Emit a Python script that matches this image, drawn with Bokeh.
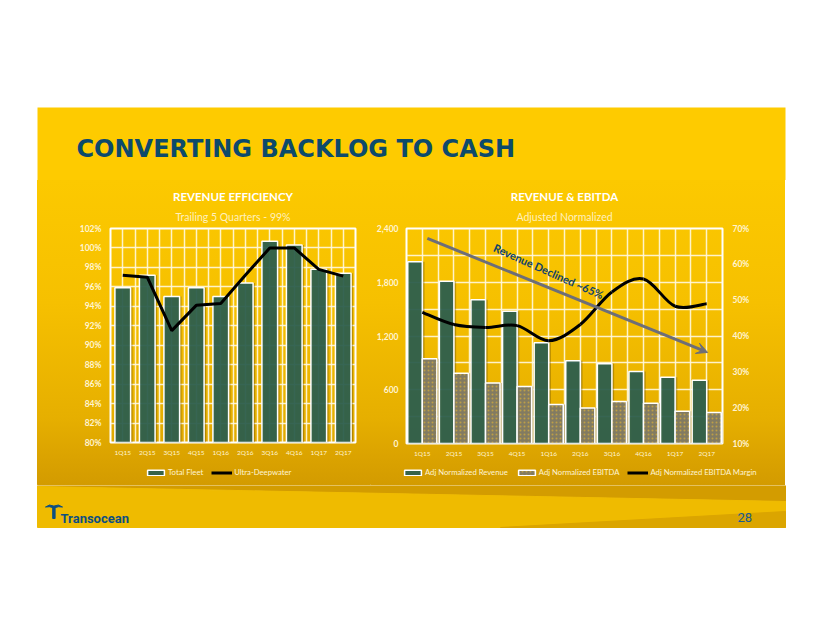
import numpy as np
from bokeh.plotting import figure
from bokeh.models import (Range1d, FactorRange, LinearAxis, FixedTicker, PrintfTickFormatter,
                          NumeralTickFormatter, Legend, LegendItem, Title, Label, Arrow, VeeHead,
                          Grid, Spacer, ColumnDataSource)
from bokeh.layouts import column, row
from bokeh.transform import dodge
from bokeh.embed import file_html
from bokeh.resources import INLINE

# ---------------- data ----------------
quarters = ["1Q15", "2Q15", "3Q15", "4Q15", "1Q16", "2Q16", "3Q16", "4Q16", "1Q17", "2Q17"]

# Revenue efficiency (%)
total_fleet = [95.9, 97.2, 95.0, 95.9, 95.0, 96.4, 100.7, 100.3, 97.8, 97.4]
ultra_deepwater = [97.2, 97.0, 91.5, 94.1, 94.3, 97.2, 100.0, 100.0, 97.8, 97.1]
eff_ticks = [80, 82, 84, 86, 88, 90, 92, 94, 96, 98, 100, 102]

# Revenue & EBITDA ($M) and margin (%)
adj_revenue = [2030, 1810, 1605, 1475, 1125, 925, 890, 805, 740, 705]
adj_ebitda = [945, 785, 675, 635, 435, 395, 470, 450, 360, 345]
adj_margin = [46.6, 43.2, 42.4, 42.9, 38.7, 43.2, 52.3, 55.9, 48.3, 49.0]
usd_ticks = [0, 600, 1200, 1800, 2400]
pct_ticks = [10, 20, 30, 40, 50, 60, 70]

# ---------------- style ----------------
TITLE_FONT = "DejaVu Sans"
FONT = "Lato"
LOGO_FONT = "Roboto"
CREAM = "#fff4d2"
GREEN = "#2a5e4f"
GRAY = "#7f7a66"
NAVY = "#0d4a6b"
GRID = "#fff8e0"
CHART_BG = "linear-gradient(180deg, #fcc900 0%, #f6c000 44%, #e6af00 85%, #daa200 100%)"
LEGEND_BG = "linear-gradient(180deg, #daa200 0%, #d39b00 100%)"


def blank(width, height, x0, x1, y0, y1):
    p = figure(width=width, height=height, x_range=Range1d(x0, x1), y_range=Range1d(y1, y0),
               output_backend="svg", toolbar_location=None, x_axis_type=None, y_axis_type=None,
               min_border=0)
    p.grid.visible = False
    p.outline_line_color = None
    p.background_fill_color = "white"
    p.border_fill_color = "white"
    return p


def no_ticks(ax):
    ax.axis_line_color = None
    ax.major_tick_line_color = None
    ax.minor_tick_line_color = None
    ax.major_tick_out = 0
    ax.major_tick_in = 0
    ax.minor_tick_out = 0
    ax.minor_tick_in = 0


# ---------------- top band (title) ----------------
top = blank(822, 180, 0, 822, 0, 180)
top.quad(left=[37], right=[785], top=[107], bottom=[180], line_color=None, fill_color="#fecb00")
top.add_layout(Label(x=76, y=148, text="CONVERTING BACKLOG TO CASH", text_font=TITLE_FONT,
                     text_font_style="bold", text_font_size="24px", text_color=NAVY,
                     text_baseline="alphabetic"))


def style_chart(p, main_title, sub_title):
    p.background_fill_alpha = 0
    p.border_fill_alpha = 0
    p.styles = {"background": CHART_BG}
    p.outline_line_color = "white"
    p.outline_line_width = 2
    p.title.text = main_title
    p.title.align = "center"
    p.title.text_font = FONT
    p.title.text_font_style = "bold"
    p.title.text_font_size = "11.5px"
    p.title.text_color = "white"
    p.title.standoff = 1
    p.add_layout(Title(text=sub_title, align="center", text_font=FONT, text_font_style="normal",
                       text_font_size="10.5px", text_color="#fff0bf", standoff=11), "above")
    p.xgrid.visible = False
    p.add_layout(Grid(dimension=0, ticker=FixedTicker(ticks=[i * 0.5 for i in range(21)]),
                      grid_line_color=GRID, grid_line_width=1.5, grid_line_alpha=0.9))
    p.ygrid.grid_line_color = GRID
    p.ygrid.grid_line_width = 1.5
    p.ygrid.grid_line_alpha = 0.9
    for ax in p.axis:
        no_ticks(ax)
    p.xaxis.major_label_text_font = FONT
    p.xaxis.major_label_text_font_size = "6.5px"
    p.xaxis.major_label_text_color = CREAM
    p.xaxis.major_label_standoff = 6


def style_yaxis(ax, standoff):
    no_ticks(ax)
    ax.major_label_text_font = FONT
    ax.major_label_text_font_style = "bold"
    ax.major_label_text_font_size = "8.5px"
    ax.major_label_text_color = CREAM
    ax.major_label_standoff = standoff


def legend_strip(width, entries, loc):
    """A thin figure under a chart that carries only that chart's legend.
    Its proxy glyphs sit outside the visible range, so only the legend swatches show."""
    p = figure(width=width, height=25, x_range=Range1d(0, 1), y_range=Range1d(0, 1),
               output_backend="svg", toolbar_location=None, x_axis_type=None, y_axis_type=None,
               min_border=0)
    p.grid.visible = False
    p.outline_line_color = None
    p.background_fill_alpha = 0
    p.border_fill_alpha = 0
    p.styles = {"background": LEGEND_BG}
    items = []
    for label, kind, props in entries:
        if kind == "bar":
            r = p.vbar(x=[-5], top=[-5], bottom=[-6], width=0.1, **props)
        else:
            r = p.line(x=[-6, -5], y=[-5, -5], **props)
        items.append(LegendItem(label=label, renderers=[r]))
    leg = Legend(items=items, orientation="horizontal", location=loc,
                 background_fill_alpha=0, border_line_alpha=0,
                 label_text_font=FONT, label_text_font_size="7.7px", label_text_color=CREAM,
                 glyph_width=21, glyph_height=7, label_standoff=2, spacing=8, padding=2, margin=0)
    p.add_layout(leg, "center")
    return p


BAR_STYLE = dict(fill_color=GREEN, fill_alpha=0.92, line_color="white", line_width=1.5)
EBITDA_STYLE = dict(fill_color=GRAY, fill_alpha=0.95, line_color="white", line_width=1.5,
                    hatch_pattern="dot", hatch_color="#d6ac3a", hatch_alpha=0.7, hatch_scale=4)
LINE_STYLE = dict(line_color="black", line_width=3)
SHADOW = dict(fill_color="#5a4300", fill_alpha=0.35, line_color=None)

# ---------------- left chart: revenue efficiency ----------------
src_l = ColumnDataSource(dict(q=quarters, fleet=total_fleet, udw=ultra_deepwater))
left = figure(frame_width=245, frame_height=214, x_range=FactorRange(factors=quarters),
              y_range=Range1d(80, 102), output_backend="svg", toolbar_location=None,
              min_border_left=73, min_border_right=15, min_border_top=48, min_border_bottom=18)
style_chart(left, "REVENUE EFFICIENCY", "Trailing 5 Quarters - 99%")
left.yaxis.ticker = FixedTicker(ticks=eff_ticks)
left.yaxis.formatter = PrintfTickFormatter(format="%d%%")
style_yaxis(left.yaxis[0], 9)
left.vbar(x=dodge("q", 0.08, range=left.x_range), top="fleet", bottom=80, width=0.64, source=src_l,
          **SHADOW)
left.vbar(x="q", top="fleet", bottom=80, width=0.64, source=src_l, **BAR_STYLE)
left.line(x="q", y="udw", source=src_l, **LINE_STYLE)

leg_left = legend_strip(333, [("Total Fleet", "bar", BAR_STYLE),
                              ("Ultra-Deepwater", "line", LINE_STYLE)], (106, 6))

# ---------------- right chart: revenue & EBITDA ----------------
src_r = ColumnDataSource(dict(q=quarters, rev=adj_revenue, ebitda=adj_ebitda))
right = figure(frame_width=316, frame_height=215, x_range=FactorRange(factors=quarters),
               y_range=Range1d(0, 2400), output_backend="svg", toolbar_location=None,
               min_border_left=36, min_border_right=63, min_border_top=48, min_border_bottom=17)
style_chart(right, "REVENUE & EBITDA", "Adjusted Normalized")
right.ygrid.ticker = FixedTicker(ticks=[i * 300 for i in range(9)])
right.yaxis.ticker = FixedTicker(ticks=usd_ticks)
right.yaxis.formatter = NumeralTickFormatter(format="0,0")
style_yaxis(right.yaxis[0], 8)
right.extra_y_ranges = {"pct": Range1d(10, 70)}
pct_axis = LinearAxis(y_range_name="pct", ticker=FixedTicker(ticks=pct_ticks),
                      formatter=PrintfTickFormatter(format="%d%%"))
style_yaxis(pct_axis, 10)
right.add_layout(pct_axis, "right")

right.vbar(x=dodge("q", 0.30, range=right.x_range), top="ebitda", bottom=0, width=0.46, source=src_r,
           **SHADOW)
right.vbar(x=dodge("q", -0.16, range=right.x_range), top="rev", bottom=0, width=0.46, source=src_r,
           **SHADOW)
right.vbar(x=dodge("q", -0.23, range=right.x_range), top="rev", bottom=0, width=0.46,
           source=src_r, **BAR_STYLE)
right.vbar(x=dodge("q", 0.23, range=right.x_range), top="ebitda", bottom=0, width=0.46,
           source=src_r, **EBITDA_STYLE)

# smoothed margin line (cubic Bezier segments through the data points)
xs = np.arange(len(quarters)) + 0.5
ys = np.array(adj_margin, dtype=float)
n = len(xs)
x0, y0, x1, y1, cx0, cy0, cx1, cy1 = ([] for _ in range(8))
for i in range(n - 1):
    i0, i3 = max(i - 1, 0), min(i + 2, n - 1)
    x0.append(xs[i]); y0.append(ys[i]); x1.append(xs[i + 1]); y1.append(ys[i + 1])
    cx0.append(xs[i] + (xs[i + 1] - xs[i0]) / 6); cy0.append(ys[i] + (ys[i + 1] - ys[i0]) / 6)
    cx1.append(xs[i + 1] - (xs[i3] - xs[i]) / 6); cy1.append(ys[i + 1] - (ys[i3] - ys[i]) / 6)
right.bezier(x0=x0, y0=y0, x1=x1, y1=y1, cx0=cx0, cy0=cy0, cx1=cx1, cy1=cy1,
             y_range_name="pct", **LINE_STYLE)

right.add_layout(Arrow(end=VeeHead(size=11, fill_color="#6d6e78", line_color="#6d6e78"),
                       x_start=0.66, y_start=2290, x_end=9.53, y_end=1016,
                       line_color="#6d6e78", line_width=3))
right.add_layout(Label(x=4.5, y=1925, text="Revenue Declined ~65%", angle=-0.42,
                       text_align="center", text_baseline="middle", text_font=FONT,
                       text_font_style="bold", text_font_size="11px", text_color="#0d416c"))

leg_right = legend_strip(415, [("Adj Normalized Revenue", "bar", BAR_STYLE),
                               ("Adj Normalized EBITDA", "bar", EBITDA_STYLE),
                               ("Adj Normalized EBITDA Margin", "line", LINE_STYLE)], (30, 6))

# ---------------- bottom band ----------------
bot = blank(822, 150, 0, 822, 485, 635)
bot.patch(x=[37, 785, 785, 37], y=[485, 485, 501, 486], color="#d39c00")
bot.patch(x=[37, 785, 785, 37], y=[486, 501, 527, 527], color="#efbb00")
bot.patch(x=[500, 785, 785], y=[527, 511, 527], color="#dba500")
bot.quad(left=[52.2], right=[54.6], top=[506], bottom=[518], color="#0d4f80")
bot.patch(x=[45, 49, 53.4, 57.8, 62, 58, 53.4, 49], y=[506.5, 504.5, 505.6, 504.5, 506.5, 506.2, 507.4, 506.2],
          color="#0d4f80")
bot.add_layout(Label(x=60, y=518, text="Transocean", text_font=LOGO_FONT, text_font_style="bold",
                     text_font_size="13px", text_color="#0d4f80", text_baseline="alphabetic"))
bot.add_layout(Label(x=737, y=517, text="28", text_font=LOGO_FONT, text_font_size="13px",
                     text_color="#1b5c8c", text_baseline="alphabetic"))

layout = column(top,
                row(Spacer(width=37, height=280), left, right, Spacer(width=37, height=280)),
                row(Spacer(width=37, height=25), leg_left, leg_right, Spacer(width=37, height=25)),
                bot)

open("out.html", "w").write(file_html(layout, INLINE))
